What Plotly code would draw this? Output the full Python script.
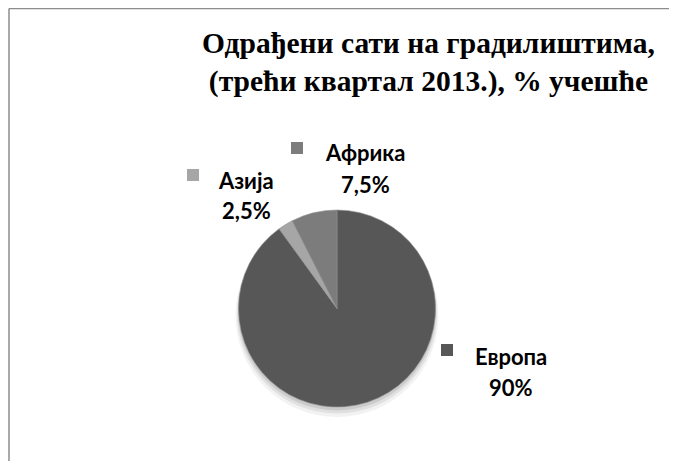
import plotly.graph_objects as go

# Data
regions = ["Европа", "Азија", "Африка"]
shares = [90, 2.5, 7.5]
share_labels = ["90%", "2,5%", "7,5%"]
colors = ["#575757", "#a6a6a6", "#7c7c7c"]

W, H = 677, 461
OFF = 8  # page body margin

def px(x):
    return (x - OFF) / W

def py(y):
    return 1 - (y - OFF) / H

cx, cy, r = 337, 308.5, 98.5

fig = go.Figure()

# soft shadow layers
for dy, dr, a in [(7, 3, 0.05), (5, 1.5, 0.07), (3, 0.5, 0.09)]:
    rr = r + dr
    fig.add_trace(go.Pie(
        values=[1], labels=["shadow"], sort=False, textinfo="none", hoverinfo="skip",
        marker=dict(colors=[f"rgba(0,0,0,{a})"], line=dict(width=0)),
        domain=dict(x=[px(cx - rr), px(cx + rr)], y=[py(cy + dy + rr), py(cy + dy - rr)]),
        showlegend=False,
    ))

fig.add_trace(go.Pie(
    labels=regions, values=shares, sort=False, direction="clockwise", rotation=0,
    textinfo="none", hoverinfo="label+percent",
    marker=dict(colors=colors, line=dict(color="#8e8e8e", width=0.6)),
    domain=dict(x=[px(cx - r), px(cx + r)], y=[py(cy + r), py(cy - r)]),
    showlegend=False,
))

# label layout: (square x, square y, text center x, name y, value y)
label_pos = {
    "Европа": (447, 350, 511, 356, 387),
    "Азија": (193, 175, 246, 180, 211),
    "Африка": (297, 148, 365, 153, 184),
}

annotations = [
    dict(text="<b>Одрађени сати на градилиштима,<br>(трећи квартал 2013.), % учешће</b>",
         x=px(428), y=py(62), xref="paper", yref="paper", showarrow=False,
         xanchor="center", yanchor="middle",
         font=dict(family="Liberation Serif", size=29.5, color="#000000")),
]
frame = dict(color="#8c8c8c", width=1.5)
shapes = [
    dict(type="line", xref="paper", yref="paper", x0=px(9), x1=1.2, y0=py(8.5), y1=py(8.5),
         line=frame, layer="above"),
    dict(type="line", xref="paper", yref="paper", x0=px(9), x1=px(9), y0=-0.2, y1=py(8.5),
         line=frame, layer="above"),
]
for name, val, col in zip(regions, share_labels, colors):
    sx, sy, tx, ny, vy = label_pos[name]
    shapes.append(dict(type="rect", xref="paper", yref="paper",
                       x0=px(sx - 6), x1=px(sx + 6), y0=py(sy + 6), y1=py(sy - 6),
                       fillcolor=col, line=dict(width=0)))
    annotations.append(dict(text=f"<b>{name}</b>", x=px(tx), y=py(ny), xref="paper", yref="paper",
                            showarrow=False, xanchor="center", yanchor="middle",
                            font=dict(family="Lato", size=22, color="#000000")))
    annotations.append(dict(text=f"<b>{val}</b>", x=px(tx), y=py(vy), xref="paper", yref="paper",
                            showarrow=False, xanchor="center", yanchor="middle",
                            font=dict(family="Lato", size=22, color="#000000")))

fig.update_layout(
    width=W, height=H, margin=dict(l=0, r=0, t=0, b=0),
    paper_bgcolor="#ffffff", plot_bgcolor="#ffffff",
    annotations=annotations, shapes=shapes, showlegend=False,
)

fig.write_html("out.html")
